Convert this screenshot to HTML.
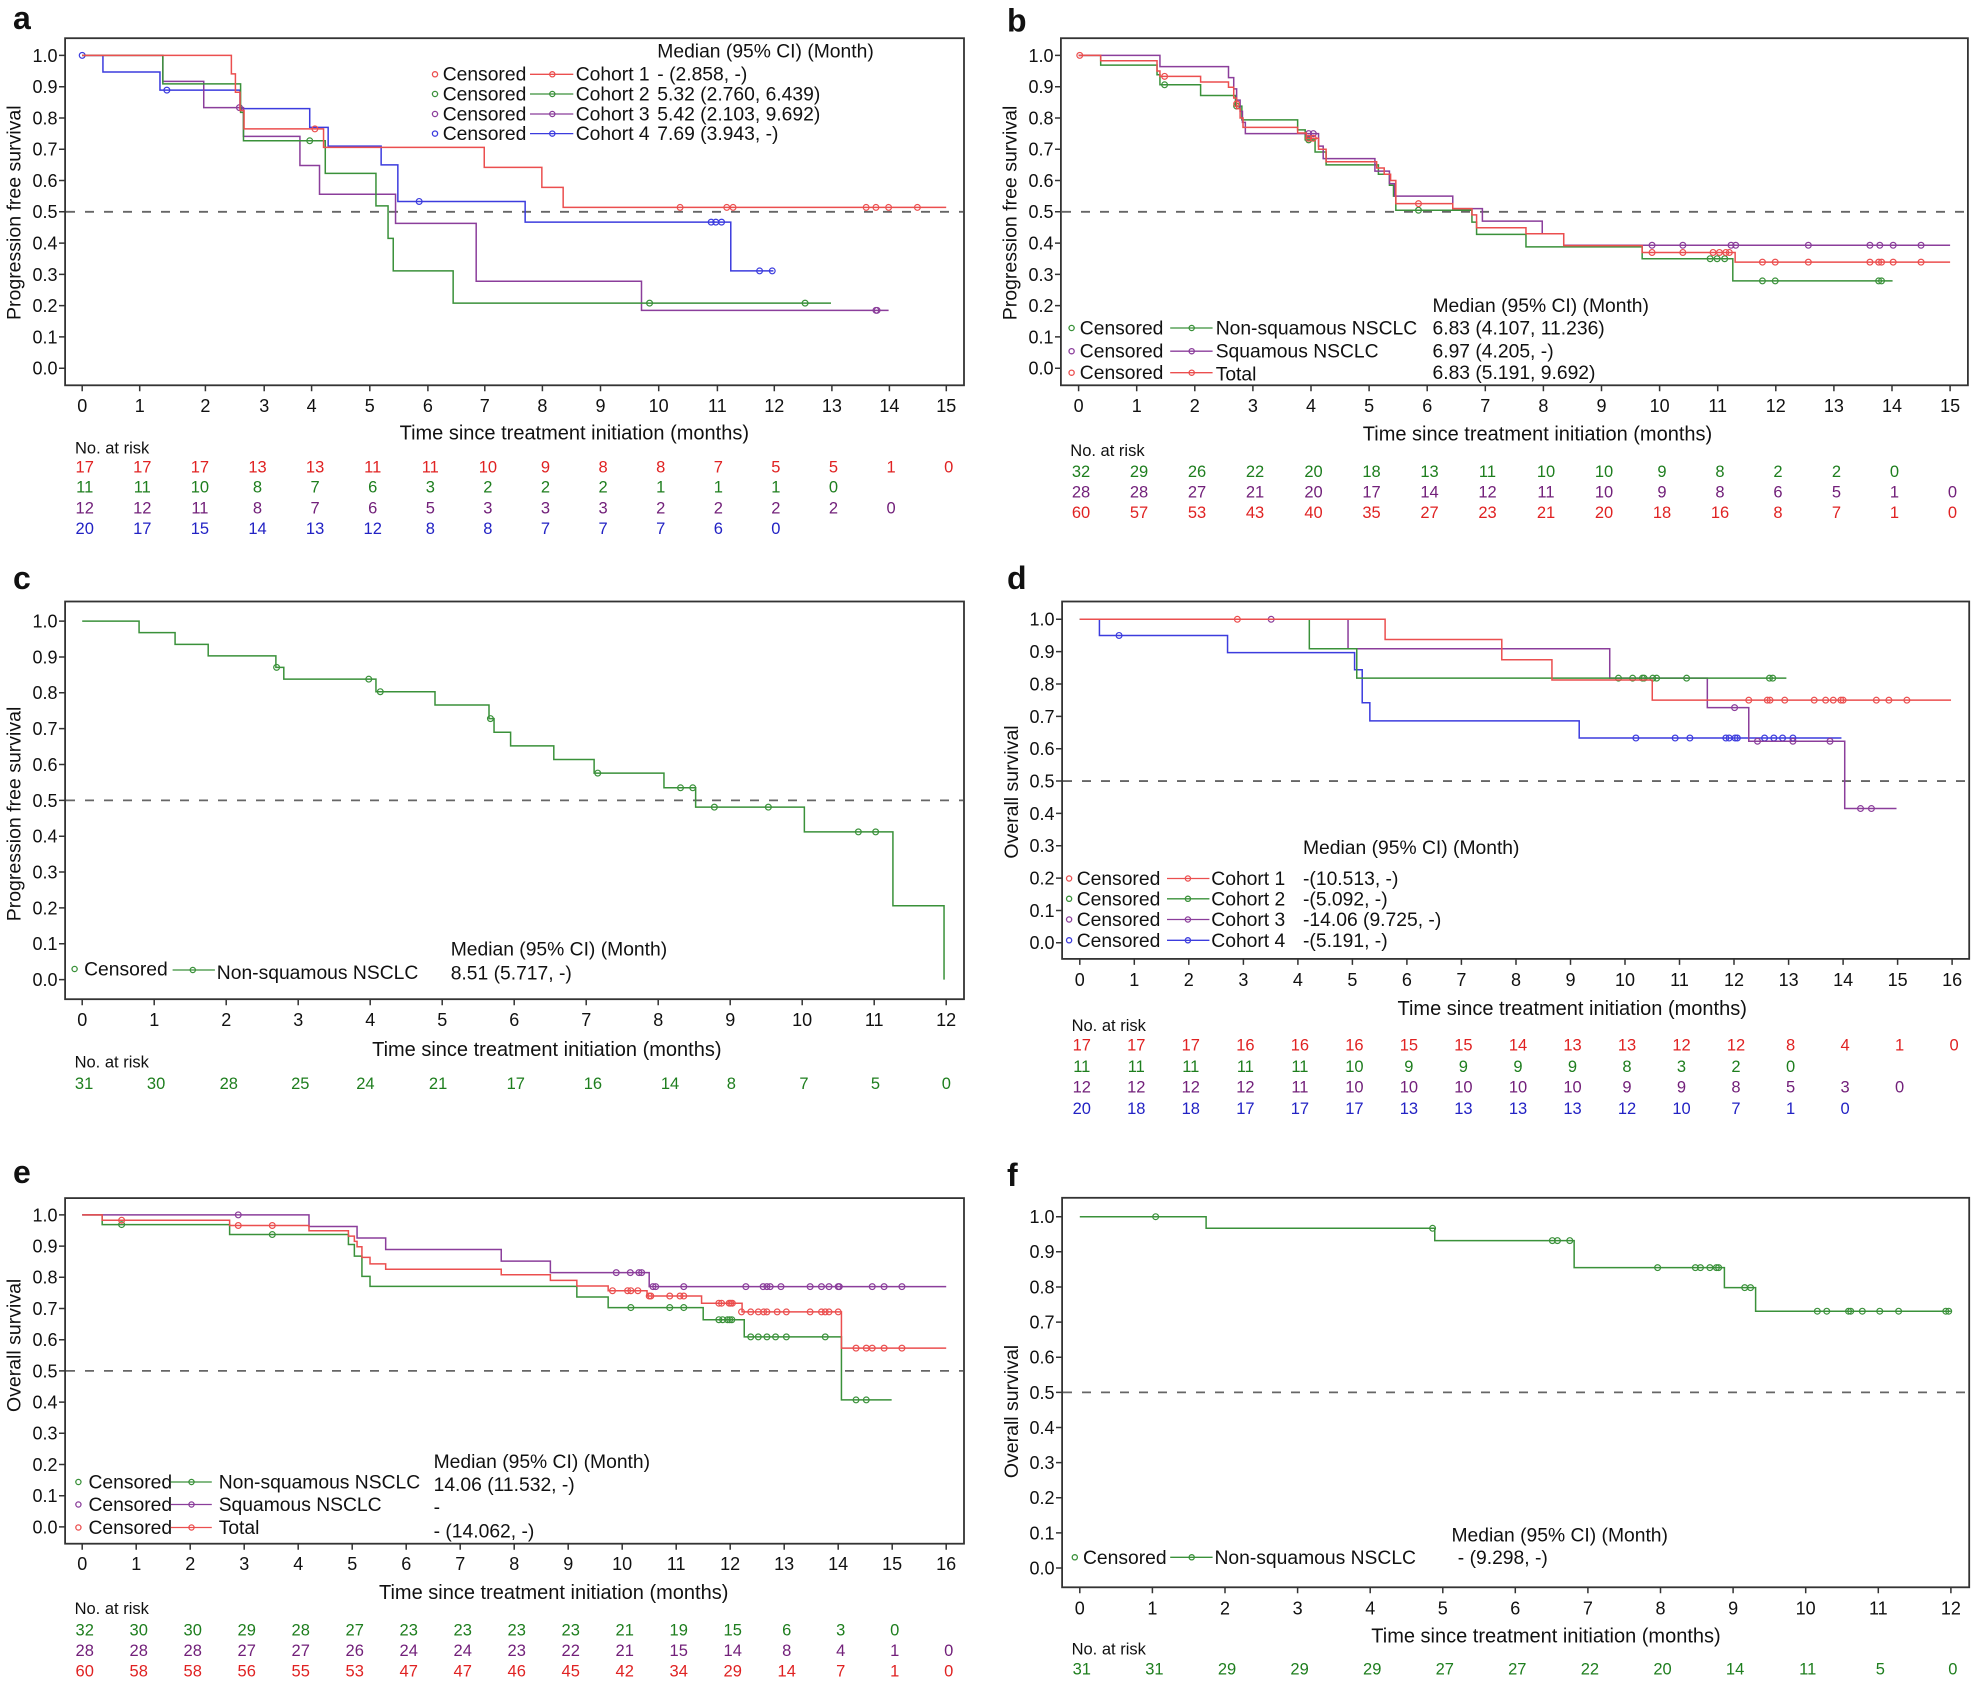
<!DOCTYPE html>
<html><head><meta charset="utf-8"><style>
html,body{margin:0;padding:0;background:#fff}
svg{display:block}
svg text{font-family:"Liberation Sans",Arial,sans-serif;fill:#111}
.tk{font-size:18px}
.tm{text-anchor:middle}
.te{text-anchor:end}
.lg{font-size:19.3px}
.rk{font-size:16.5px;text-anchor:middle}
.ax{font-size:20px;text-anchor:middle}
.yl{font-size:19.5px;text-anchor:middle}
.pl{font-size:32px;font-weight:bold}
.R{fill:#e02222 !important}.G{fill:#1e7e1e !important}.P{fill:#72207a !important}.B{fill:#2222c4 !important}
.cv path,.cv ellipse{vector-effect:non-scaling-stroke}
.cv path{stroke-width:1.5;fill:none}
.cv ellipse{stroke-width:1.2;fill:none}
.box{fill:none;stroke:#333;stroke-width:1.8}
.tks{fill:none;stroke:#333;stroke-width:1.5}
.dash{stroke:#666;stroke-width:1.8;stroke-dasharray:9 10;fill:none}
.lm{fill:none;stroke-width:1.3}
</style></head><body>
<svg width="1975" height="1682" viewBox="0 0 1975 1682" xmlns="http://www.w3.org/2000/svg">

<!-- ================= PANEL A ================= -->
<text class="pl" x="13" y="29">a</text>
<rect class="box" x="65.1" y="38.2" width="898.9" height="347.1"/>
<line class="dash" x1="66" y1="211.8" x2="963" y2="211.8"/>
<path class="tks" d="M59,55.4h6M59,86.7h6M59,118h6M59,149.2h6M59,180.5h6M59,211.8h6M59,243.1h6M59,274.4h6M59,305.6h6M59,336.9h6M59,368.2h6"/>
<path class="tks" d="M82.2,385.3v6M139.7,385.3v6M205.4,385.3v6M264.2,385.3v6M311.6,385.3v6M369.8,385.3v6M427.9,385.3v6M484.8,385.3v6M542.4,385.3v6M600.5,385.3v6M658.7,385.3v6M717.4,385.3v6M774.3,385.3v6M831.9,385.3v6M889.4,385.3v6M946.3,385.3v6"/>
<text class="tk te"><tspan x="57.5" y="61.8">1.0</tspan><tspan x="57.5" y="93.1">0.9</tspan><tspan x="57.5" y="124.4">0.8</tspan><tspan x="57.5" y="155.6">0.7</tspan><tspan x="57.5" y="186.9">0.6</tspan><tspan x="57.5" y="218.2">0.5</tspan><tspan x="57.5" y="249.5">0.4</tspan><tspan x="57.5" y="280.8">0.3</tspan><tspan x="57.5" y="312">0.2</tspan><tspan x="57.5" y="343.3">0.1</tspan><tspan x="57.5" y="374.6">0.0</tspan></text>
<text class="tk tm" y="412"><tspan x="82.2">0</tspan><tspan x="139.7">1</tspan><tspan x="205.4">2</tspan><tspan x="264.2">3</tspan><tspan x="311.6">4</tspan><tspan x="369.8">5</tspan><tspan x="427.9">6</tspan><tspan x="484.8">7</tspan><tspan x="542.4">8</tspan><tspan x="600.5">9</tspan><tspan x="658.7">10</tspan><tspan x="717.4">11</tspan><tspan x="774.3">12</tspan><tspan x="831.9">13</tspan><tspan x="889.4">14</tspan><tspan x="946.3">15</tspan></text>
<text class="ax" x="574.3" y="439.5">Time since treatment initiation (months)</text>
<text class="yl" transform="translate(20.3,212.7) rotate(-90)">Progression free survival</text>
<g class="cv" transform="translate(82.2,368.2) scale(57.6,-312.8)">
 <g stroke="#3c3cde"><path d="M0,1H.36V.947H1.35V.889H2.74V.83H3.95V.77H4.27V.71H5.19V.65H5.48V.533H7.69V.467H11.26V.311H12"/>
  <ellipse cx="0" cy="1" rx=".0503" ry=".00927"/><ellipse cx="1.47" cy=".889" rx=".0503" ry=".00927"/><ellipse cx="5.85" cy=".533" rx=".0503" ry=".00927"/><ellipse cx="10.92" cy=".467" rx=".0503" ry=".00927"/><ellipse cx="11.0" cy=".467" rx=".0503" ry=".00927"/><ellipse cx="11.1" cy=".467" rx=".0503" ry=".00927"/><ellipse cx="11.76" cy=".311" rx=".0503" ry=".00927"/><ellipse cx="11.98" cy=".311" rx=".0503" ry=".00927"/></g>
 <g stroke="#8b3e9b"><path d="M0,1H1.40V.917H2.11V.833H2.80V.741H3.78V.648H4.12V.556H5.44V.463H6.84V.278H9.71V.185H14"/>
  <ellipse cx="2.73" cy=".833" rx=".0503" ry=".00927"/><ellipse cx="13.78" cy=".185" rx=".0503" ry=".00927"/><ellipse cx="13.80" cy=".185" rx=".0503" ry=".00927"/></g>
 <g stroke="#3a913a"><path d="M0,1H1.40V.909H2.75V.818H2.80V.727H4.22V.623H5.10V.519H5.31V.415H5.40V.311H6.44V.208H13"/>
  <ellipse cx="3.95" cy=".727" rx=".0503" ry=".00927"/><ellipse cx="9.85" cy=".208" rx=".0503" ry=".00927"/><ellipse cx="12.55" cy=".208" rx=".0503" ry=".00927"/></g>
 <g stroke="#eb4f4f"><path d="M0,1H2.59V.941H2.66V.882H2.74V.824H2.81V.765H4.19V.706H6.98V.642H7.98V.578H8.35V.514H15"/>
  <ellipse cx="4.04" cy=".765" rx=".0503" ry=".00927"/><ellipse cx="10.38" cy=".514" rx=".0503" ry=".00927"/><ellipse cx="11.19" cy=".514" rx=".0503" ry=".00927"/><ellipse cx="11.30" cy=".514" rx=".0503" ry=".00927"/><ellipse cx="13.61" cy=".514" rx=".0503" ry=".00927"/><ellipse cx="13.78" cy=".514" rx=".0503" ry=".00927"/><ellipse cx="14.0" cy=".514" rx=".0503" ry=".00927"/><ellipse cx="14.5" cy=".514" rx=".0503" ry=".00927"/></g>
</g>
<text class="lg" x="657.3" y="57.3">Median (95% CI) (Month)</text>
<g class="lg">
 <circle class="lm" cx="435" cy="74.3" r="2.6" stroke="#eb4f4f"/><text class="lg" x="442.7" y="80.7">Censored</text><path class="lm" d="M530,74.3H573.3" stroke="#eb4f4f"/><circle class="lm" cx="552.3" cy="74.3" r="2.6" stroke="#eb4f4f"/><text class="lg" x="575.7" y="80.7">Cohort 1</text><text class="lg" x="657.3" y="80.7">- (2.858, -)</text>
 <circle class="lm" cx="435" cy="94" r="2.6" stroke="#3a913a"/><text class="lg" x="442.7" y="100.4">Censored</text><path class="lm" d="M530,94H573.3" stroke="#3a913a"/><circle class="lm" cx="552.3" cy="94" r="2.6" stroke="#3a913a"/><text class="lg" x="575.7" y="100.4">Cohort 2</text><text class="lg" x="657.3" y="100.4">5.32 (2.760, 6.439)</text>
 <circle class="lm" cx="435" cy="114" r="2.6" stroke="#8b3e9b"/><text class="lg" x="442.7" y="120.4">Censored</text><path class="lm" d="M530,114H573.3" stroke="#8b3e9b"/><circle class="lm" cx="552.3" cy="114" r="2.6" stroke="#8b3e9b"/><text class="lg" x="575.7" y="120.4">Cohort 3</text><text class="lg" x="657.3" y="120.4">5.42 (2.103, 9.692)</text>
 <circle class="lm" cx="435" cy="133.6" r="2.6" stroke="#3c3cde"/><text class="lg" x="442.7" y="140">Censored</text><path class="lm" d="M530,133.6H573.3" stroke="#3c3cde"/><circle class="lm" cx="552.3" cy="133.6" r="2.6" stroke="#3c3cde"/><text class="lg" x="575.7" y="140">Cohort 4</text><text class="lg" x="657.3" y="140">7.69 (3.943, -)</text>
</g>
<text class="rk" x="75" y="453.3" style="text-anchor:start">No. at risk</text>
<text class="rk R" y="472.6"><tspan x="84.7">17</tspan><tspan x="142.3">17</tspan><tspan x="199.9">17</tspan><tspan x="257.5">13</tspan><tspan x="315.1">13</tspan><tspan x="372.7">11</tspan><tspan x="430.3">11</tspan><tspan x="487.9">10</tspan><tspan x="545.5">9</tspan><tspan x="603.1">8</tspan><tspan x="660.7">8</tspan><tspan x="718.3">7</tspan><tspan x="775.9">5</tspan><tspan x="833.5">5</tspan><tspan x="891.1">1</tspan><tspan x="948.7">0</tspan></text>
<text class="rk G" y="492.6"><tspan x="84.7">11</tspan><tspan x="142.3">11</tspan><tspan x="199.9">10</tspan><tspan x="257.5">8</tspan><tspan x="315.1">7</tspan><tspan x="372.7">6</tspan><tspan x="430.3">3</tspan><tspan x="487.9">2</tspan><tspan x="545.5">2</tspan><tspan x="603.1">2</tspan><tspan x="660.7">1</tspan><tspan x="718.3">1</tspan><tspan x="775.9">1</tspan><tspan x="833.5">0</tspan></text>
<text class="rk P" y="513.6"><tspan x="84.7">12</tspan><tspan x="142.3">12</tspan><tspan x="199.9">11</tspan><tspan x="257.5">8</tspan><tspan x="315.1">7</tspan><tspan x="372.7">6</tspan><tspan x="430.3">5</tspan><tspan x="487.9">3</tspan><tspan x="545.5">3</tspan><tspan x="603.1">3</tspan><tspan x="660.7">2</tspan><tspan x="718.3">2</tspan><tspan x="775.9">2</tspan><tspan x="833.5">2</tspan><tspan x="891.1">0</tspan></text>
<text class="rk B" y="534.2"><tspan x="84.7">20</tspan><tspan x="142.3">17</tspan><tspan x="199.9">15</tspan><tspan x="257.5">14</tspan><tspan x="315.1">13</tspan><tspan x="372.7">12</tspan><tspan x="430.3">8</tspan><tspan x="487.9">8</tspan><tspan x="545.5">7</tspan><tspan x="603.1">7</tspan><tspan x="660.7">7</tspan><tspan x="718.3">6</tspan><tspan x="775.9">0</tspan></text>

<!-- ================= PANEL B ================= -->
<text class="pl" x="1007" y="31.5">b</text>
<rect class="box" x="1060.9" y="38.2" width="907" height="347.1"/>
<line class="dash" x1="1062" y1="211.8" x2="1967" y2="211.8"/>
<path class="tks" d="M1055,55.4h6M1055,86.7h6M1055,118h6M1055,149.2h6M1055,180.5h6M1055,211.8h6M1055,243.1h6M1055,274.4h6M1055,305.6h6M1055,336.9h6M1055,368.2h6"/>
<path class="tks" d="M1078.6,385.3v6M1136.7,385.3v6M1194.8,385.3v6M1252.9,385.3v6M1311,385.3v6M1369.1,385.3v6M1427.2,385.3v6M1485.3,385.3v6M1543.4,385.3v6M1601.5,385.3v6M1659.6,385.3v6M1717.7,385.3v6M1775.8,385.3v6M1833.9,385.3v6M1892,385.3v6M1950.1,385.3v6"/>
<text class="tk te"><tspan x="1053.5" y="61.8">1.0</tspan><tspan x="1053.5" y="93.1">0.9</tspan><tspan x="1053.5" y="124.4">0.8</tspan><tspan x="1053.5" y="155.6">0.7</tspan><tspan x="1053.5" y="186.9">0.6</tspan><tspan x="1053.5" y="218.2">0.5</tspan><tspan x="1053.5" y="249.5">0.4</tspan><tspan x="1053.5" y="280.8">0.3</tspan><tspan x="1053.5" y="312">0.2</tspan><tspan x="1053.5" y="343.3">0.1</tspan><tspan x="1053.5" y="374.6">0.0</tspan></text>
<text class="tk tm" y="412"><tspan x="1078.6">0</tspan><tspan x="1136.7">1</tspan><tspan x="1194.8">2</tspan><tspan x="1252.9">3</tspan><tspan x="1311">4</tspan><tspan x="1369.1">5</tspan><tspan x="1427.2">6</tspan><tspan x="1485.3">7</tspan><tspan x="1543.4">8</tspan><tspan x="1601.5">9</tspan><tspan x="1659.6">10</tspan><tspan x="1717.7">11</tspan><tspan x="1775.8">12</tspan><tspan x="1833.9">13</tspan><tspan x="1892">14</tspan><tspan x="1950.1">15</tspan></text>
<text class="ax" x="1537.5" y="440.5">Time since treatment initiation (months)</text>
<text class="yl" transform="translate(1016.7,213) rotate(-90)">Progression free survival</text>
<g class="cv" transform="translate(1078.6,368.2) scale(58.1,-312.8)">
 <g stroke="#3a913a"><path d="M0,1H.38V.969H1.35V.938H1.40V.906H2.10V.872H2.70V.838H2.81V.794H3.77V.762H3.90V.73H4.07V.691H4.26V.65H5.16V.62H5.35V.585H5.42V.55H5.46V.505H6.77V.467H6.85V.428H7.70V.388H9.70V.35H11.26V.279H14.01"/>
  <ellipse cx="1.48" cy=".906" rx=".0499" ry=".00927"/><ellipse cx="2.72" cy=".838" rx=".0499" ry=".00927"/><ellipse cx="3.96" cy=".73" rx=".0499" ry=".00927"/><ellipse cx="5.85" cy=".505" rx=".0499" ry=".00927"/><ellipse cx="10.87" cy=".35" rx=".0499" ry=".00927"/><ellipse cx="10.99" cy=".35" rx=".0499" ry=".00927"/><ellipse cx="11.12" cy=".35" rx=".0499" ry=".00927"/><ellipse cx="11.77" cy=".279" rx=".0499" ry=".00927"/><ellipse cx="11.99" cy=".279" rx=".0499" ry=".00927"/><ellipse cx="13.77" cy=".279" rx=".0499" ry=".00927"/><ellipse cx="13.82" cy=".279" rx=".0499" ry=".00927"/></g>
 <g stroke="#8b3e9b"><path d="M0,1H1.40V.964H2.58V.929H2.67V.893H2.72V.857H2.78V.821H2.82V.786H2.87V.75H4.13V.71H4.21V.67H5.10V.63H5.35V.59H5.44V.55H6.44V.51H6.95V.47H7.98V.43H8.35V.393H15"/>
  <ellipse cx="3.96" cy=".75" rx=".0499" ry=".00927"/><ellipse cx="4.04" cy=".75" rx=".0499" ry=".00927"/><ellipse cx="9.87" cy=".393" rx=".0499" ry=".00927"/><ellipse cx="10.40" cy=".393" rx=".0499" ry=".00927"/><ellipse cx="11.23" cy=".393" rx=".0499" ry=".00927"/><ellipse cx="11.31" cy=".393" rx=".0499" ry=".00927"/><ellipse cx="12.56" cy=".393" rx=".0499" ry=".00927"/><ellipse cx="13.62" cy=".393" rx=".0499" ry=".00927"/><ellipse cx="13.79" cy=".393" rx=".0499" ry=".00927"/><ellipse cx="14.02" cy=".393" rx=".0499" ry=".00927"/><ellipse cx="14.5" cy=".393" rx=".0499" ry=".00927"/></g>
 <g stroke="#eb4f4f"><path d="M0,1H.38V.983H1.35V.95H1.40V.933H2.10V.915H2.58V.898H2.67V.864H2.72V.83H2.78V.80H2.83V.77H3.77V.752H3.92V.735H4.13V.70H4.26V.66H5.13V.64H5.26V.62H5.37V.60H5.46V.526H6.44V.51H6.77V.49H6.85V.449H7.70V.43H8.35V.392H9.70V.37H11.30V.339H15"/>
  <ellipse cx=".02" cy="1" rx=".0499" ry=".00927"/><ellipse cx="1.48" cy=".933" rx=".0499" ry=".00927"/><ellipse cx="2.72" cy=".845" rx=".0499" ry=".00927"/><ellipse cx="3.96" cy=".735" rx=".0499" ry=".00927"/><ellipse cx="4.04" cy=".735" rx=".0499" ry=".00927"/><ellipse cx="5.85" cy=".526" rx=".0499" ry=".00927"/><ellipse cx="9.87" cy=".37" rx=".0499" ry=".00927"/><ellipse cx="10.40" cy=".37" rx=".0499" ry=".00927"/><ellipse cx="10.92" cy=".37" rx=".0499" ry=".00927"/><ellipse cx="11.03" cy=".37" rx=".0499" ry=".00927"/><ellipse cx="11.14" cy=".37" rx=".0499" ry=".00927"/><ellipse cx="11.2" cy=".37" rx=".0499" ry=".00927"/><ellipse cx="11.77" cy=".339" rx=".0499" ry=".00927"/><ellipse cx="11.99" cy=".339" rx=".0499" ry=".00927"/><ellipse cx="12.56" cy=".339" rx=".0499" ry=".00927"/><ellipse cx="13.62" cy=".339" rx=".0499" ry=".00927"/><ellipse cx="13.77" cy=".339" rx=".0499" ry=".00927"/><ellipse cx="13.82" cy=".339" rx=".0499" ry=".00927"/><ellipse cx="14.02" cy=".339" rx=".0499" ry=".00927"/><ellipse cx="14.5" cy=".339" rx=".0499" ry=".00927"/></g>
</g>
<text class="lg" x="1432.5" y="312">Median (95% CI) (Month)</text>
<circle class="lm" cx="1071.6" cy="328" r="2.6" stroke="#3a913a"/><text class="lg" x="1079.8" y="334.5">Censored</text><path class="lm" d="M1170.2,328H1212.6" stroke="#3a913a"/><circle class="lm" cx="1191.7" cy="328" r="2.6" stroke="#3a913a"/><text class="lg" x="1215.7" y="334.5">Non-squamous NSCLC</text><text class="lg" x="1432.5" y="334.5">6.83 (4.107, 11.236)</text>
<circle class="lm" cx="1071.6" cy="351.2" r="2.6" stroke="#8b3e9b"/><text class="lg" x="1079.8" y="357.7">Censored</text><path class="lm" d="M1170.2,351.2H1212.6" stroke="#8b3e9b"/><circle class="lm" cx="1191.7" cy="351.2" r="2.6" stroke="#8b3e9b"/><text class="lg" x="1215.7" y="357.7">Squamous NSCLC</text><text class="lg" x="1432.5" y="357.7">6.97 (4.205, -)</text>
<circle class="lm" cx="1071.6" cy="372.7" r="2.6" stroke="#eb4f4f"/><text class="lg" x="1079.8" y="379.2">Censored</text><path class="lm" d="M1170.2,372.7H1212.6" stroke="#eb4f4f"/><circle class="lm" cx="1191.7" cy="372.7" r="2.6" stroke="#eb4f4f"/><text class="lg" x="1215.7" y="380.5">Total</text><text class="lg" x="1432.5" y="379.2">6.83 (5.191, 9.692)</text>
<text class="rk" x="1070.3" y="456" style="text-anchor:start">No. at risk</text>
<text class="rk G" y="477"><tspan x="1081">32</tspan><tspan x="1139">29</tspan><tspan x="1197">26</tspan><tspan x="1255">22</tspan><tspan x="1313.5">20</tspan><tspan x="1371.5">18</tspan><tspan x="1429.5">13</tspan><tspan x="1487.5">11</tspan><tspan x="1546">10</tspan><tspan x="1604">10</tspan><tspan x="1662">9</tspan><tspan x="1720">8</tspan><tspan x="1778">2</tspan><tspan x="1836.5">2</tspan><tspan x="1894.5">0</tspan></text>
<text class="rk P" y="497.4"><tspan x="1081">28</tspan><tspan x="1139">28</tspan><tspan x="1197">27</tspan><tspan x="1255">21</tspan><tspan x="1313.5">20</tspan><tspan x="1371.5">17</tspan><tspan x="1429.5">14</tspan><tspan x="1487.5">12</tspan><tspan x="1546">11</tspan><tspan x="1604">10</tspan><tspan x="1662">9</tspan><tspan x="1720">8</tspan><tspan x="1778">6</tspan><tspan x="1836.5">5</tspan><tspan x="1894.5">1</tspan><tspan x="1952.5">0</tspan></text>
<text class="rk R" y="517.8"><tspan x="1081">60</tspan><tspan x="1139">57</tspan><tspan x="1197">53</tspan><tspan x="1255">43</tspan><tspan x="1313.5">40</tspan><tspan x="1371.5">35</tspan><tspan x="1429.5">27</tspan><tspan x="1487.5">23</tspan><tspan x="1546">21</tspan><tspan x="1604">20</tspan><tspan x="1662">18</tspan><tspan x="1720">16</tspan><tspan x="1778">8</tspan><tspan x="1836.5">7</tspan><tspan x="1894.5">1</tspan><tspan x="1952.5">0</tspan></text>

<!-- ================= PANEL C ================= -->
<text class="pl" x="13" y="589">c</text>
<rect class="box" x="65.1" y="601.5" width="898.9" height="397.7"/>
<line class="dash" x1="66" y1="800.35" x2="963" y2="800.35"/>
<path class="tks" d="M59,621.1h6M59,656.95h6M59,692.8h6M59,728.65h6M59,764.5h6M59,800.35h6M59,836.2h6M59,872.05h6M59,907.9h6M59,943.75h6M59,979.6h6"/>
<path class="tks" d="M82.2,999.2v6M154.2,999.2v6M226.2,999.2v6M298.2,999.2v6M370.2,999.2v6M442.2,999.2v6M514.2,999.2v6M586.2,999.2v6M658.2,999.2v6M730.2,999.2v6M802.2,999.2v6M874.2,999.2v6M946.2,999.2v6"/>
<text class="tk te"><tspan x="57.5" y="627.5">1.0</tspan><tspan x="57.5" y="663.4">0.9</tspan><tspan x="57.5" y="699.2">0.8</tspan><tspan x="57.5" y="735.1">0.7</tspan><tspan x="57.5" y="770.9">0.6</tspan><tspan x="57.5" y="806.8">0.5</tspan><tspan x="57.5" y="842.6">0.4</tspan><tspan x="57.5" y="878.5">0.3</tspan><tspan x="57.5" y="914.3">0.2</tspan><tspan x="57.5" y="950.2">0.1</tspan><tspan x="57.5" y="986">0.0</tspan></text>
<text class="tk tm" y="1026"><tspan x="82.2">0</tspan><tspan x="154.2">1</tspan><tspan x="226.2">2</tspan><tspan x="298.2">3</tspan><tspan x="370.2">4</tspan><tspan x="442.2">5</tspan><tspan x="514.2">6</tspan><tspan x="586.2">7</tspan><tspan x="658.2">8</tspan><tspan x="730.2">9</tspan><tspan x="802.2">10</tspan><tspan x="874.2">11</tspan><tspan x="946.2">12</tspan></text>
<text class="ax" x="546.8" y="1056">Time since treatment initiation (months)</text>
<text class="yl" transform="translate(20.3,814) rotate(-90)">Progression free survival</text>
<g class="cv" transform="translate(82.2,979.6) scale(72,-358.5)">
 <g stroke="#3a913a"><path d="M0,1H.79V.968H1.29V.935H1.75V.903H2.69V.871H2.80V.838H4.08V.803H4.90V.766H5.65V.728H5.72V.69H5.95V.652H6.55V.614H7.11V.576H8.08V.535H8.52V.481H10.03V.412H11.26V.206H11.97V0"/>
  <ellipse cx="2.70" cy=".871" rx=".0403" ry=".00809"/><ellipse cx="3.98" cy=".838" rx=".0403" ry=".00809"/><ellipse cx="4.14" cy=".803" rx=".0403" ry=".00809"/><ellipse cx="5.67" cy=".728" rx=".0403" ry=".00809"/><ellipse cx="7.16" cy=".576" rx=".0403" ry=".00809"/><ellipse cx="8.31" cy=".535" rx=".0403" ry=".00809"/><ellipse cx="8.48" cy=".535" rx=".0403" ry=".00809"/><ellipse cx="8.78" cy=".481" rx=".0403" ry=".00809"/><ellipse cx="9.53" cy=".481" rx=".0403" ry=".00809"/><ellipse cx="10.78" cy=".412" rx=".0403" ry=".00809"/><ellipse cx="11.02" cy=".412" rx=".0403" ry=".00809"/></g>
</g>
<text class="lg" x="450.7" y="955.6">Median (95% CI) (Month)</text>
<circle class="lm" cx="74.6" cy="969" r="2.6" stroke="#3a913a"/><text class="lg" x="84.1" y="975.3">Censored</text><path class="lm" d="M172.6,970H214.9" stroke="#3a913a"/><circle class="lm" cx="192.8" cy="970" r="2.6" stroke="#3a913a"/><text class="lg" x="216.8" y="978.8">Non-squamous NSCLC</text><text class="lg" x="450.7" y="979.6">8.51 (5.717, -)</text>
<text class="rk" x="74.6" y="1067.7" style="text-anchor:start">No. at risk</text>
<text class="rk G" y="1089"><tspan x="84.1">31</tspan><tspan x="156.1">30</tspan><tspan x="228.8">28</tspan><tspan x="300.3">25</tspan><tspan x="365.4">24</tspan><tspan x="438.1">21</tspan><tspan x="515.8">17</tspan><tspan x="592.9">16</tspan><tspan x="670">14</tspan><tspan x="731.4">8</tspan><tspan x="804">7</tspan><tspan x="875.5">5</tspan><tspan x="946.3">0</tspan></text>

<!-- ================= PANEL D ================= -->
<text class="pl" x="1007" y="589">d</text>
<rect class="box" x="1062.1" y="601.5" width="907.1" height="357.4"/>
<line class="dash" x1="1063" y1="781.05" x2="1968" y2="781.05"/>
<path class="tks" d="M1056,619.3h6M1056,651.65h6M1056,684h6M1056,716.35h6M1056,748.7h6M1056,781.05h6M1056,813.4h6M1056,845.75h6M1056,878.1h6M1056,910.45h6M1056,942.8h6"/>
<path class="tks" d="M1079.8,958.9v6M1134.3,958.9v6M1188.8,958.9v6M1243.4,958.9v6M1297.9,958.9v6M1352.4,958.9v6M1406.9,958.9v6M1461.4,958.9v6M1516,958.9v6M1570.5,958.9v6M1625,958.9v6M1679.5,958.9v6M1734,958.9v6M1788.6,958.9v6M1843.1,958.9v6M1897.6,958.9v6M1952.1,958.9v6"/>
<text class="tk te"><tspan x="1054.5" y="625.7">1.0</tspan><tspan x="1054.5" y="658.1">0.9</tspan><tspan x="1054.5" y="690.4">0.8</tspan><tspan x="1054.5" y="722.8">0.7</tspan><tspan x="1054.5" y="755.1">0.6</tspan><tspan x="1054.5" y="787.5">0.5</tspan><tspan x="1054.5" y="819.8">0.4</tspan><tspan x="1054.5" y="852.2">0.3</tspan><tspan x="1054.5" y="884.5">0.2</tspan><tspan x="1054.5" y="916.9">0.1</tspan><tspan x="1054.5" y="949.2">0.0</tspan></text>
<text class="tk tm" y="986"><tspan x="1079.8">0</tspan><tspan x="1134.3">1</tspan><tspan x="1188.8">2</tspan><tspan x="1243.4">3</tspan><tspan x="1297.9">4</tspan><tspan x="1352.4">5</tspan><tspan x="1406.9">6</tspan><tspan x="1461.4">7</tspan><tspan x="1516">8</tspan><tspan x="1570.5">9</tspan><tspan x="1625">10</tspan><tspan x="1679.5">11</tspan><tspan x="1734">12</tspan><tspan x="1788.6">13</tspan><tspan x="1843.1">14</tspan><tspan x="1897.6">15</tspan><tspan x="1952.1">16</tspan></text>
<text class="ax" x="1572.2" y="1015">Time since treatment initiation (months)</text>
<text class="yl" transform="translate(1018,792) rotate(-90)">Overall survival</text>
<g class="cv" transform="translate(1079.8,942.8) scale(54.52,-323.5)">
 <g stroke="#3c3cde"><path d="M0,1H.36V.95H2.71V.897H5.04V.844H5.18V.742H5.32V.686H9.16V.633H13.97"/>
  <ellipse cx=".72" cy=".95" rx=".0532" ry=".00896"/><ellipse cx="10.2" cy=".633" rx=".0532" ry=".00896"/><ellipse cx="10.92" cy=".633" rx=".0532" ry=".00896"/><ellipse cx="11.19" cy=".633" rx=".0532" ry=".00896"/><ellipse cx="11.85" cy=".633" rx=".0532" ry=".00896"/><ellipse cx="11.91" cy=".633" rx=".0532" ry=".00896"/><ellipse cx="12.02" cy=".633" rx=".0532" ry=".00896"/><ellipse cx="12.06" cy=".633" rx=".0532" ry=".00896"/><ellipse cx="12.56" cy=".633" rx=".0532" ry=".00896"/><ellipse cx="12.73" cy=".633" rx=".0532" ry=".00896"/><ellipse cx="12.89" cy=".633" rx=".0532" ry=".00896"/><ellipse cx="13.08" cy=".633" rx=".0532" ry=".00896"/></g>
 <g stroke="#8b3e9b"><path d="M0,1H4.92V.909H9.72V.818H11.51V.727H12.27V.623H14.03V.415H14.98"/>
  <ellipse cx="3.51" cy="1" rx=".0532" ry=".00896"/><ellipse cx="12.01" cy=".727" rx=".0532" ry=".00896"/><ellipse cx="12.43" cy=".623" rx=".0532" ry=".00896"/><ellipse cx="13.08" cy=".623" rx=".0532" ry=".00896"/><ellipse cx="13.76" cy=".623" rx=".0532" ry=".00896"/><ellipse cx="14.32" cy=".415" rx=".0532" ry=".00896"/><ellipse cx="14.52" cy=".415" rx=".0532" ry=".00896"/></g>
 <g stroke="#3a913a"><path d="M0,1H4.21V.909H5.08V.818H12.96"/>
  <ellipse cx="9.88" cy=".818" rx=".0532" ry=".00896"/><ellipse cx="10.14" cy=".818" rx=".0532" ry=".00896"/><ellipse cx="10.32" cy=".818" rx=".0532" ry=".00896"/><ellipse cx="10.35" cy=".818" rx=".0532" ry=".00896"/><ellipse cx="10.51" cy=".818" rx=".0532" ry=".00896"/><ellipse cx="10.58" cy=".818" rx=".0532" ry=".00896"/><ellipse cx="11.13" cy=".818" rx=".0532" ry=".00896"/><ellipse cx="12.65" cy=".818" rx=".0532" ry=".00896"/><ellipse cx="12.71" cy=".818" rx=".0532" ry=".00896"/></g>
 <g stroke="#eb4f4f"><path d="M0,1H5.60V.9375H7.74V.875H8.66V.8125H10.50V.75H15.98"/>
  <ellipse cx="2.89" cy="1" rx=".0532" ry=".00896"/><ellipse cx="12.27" cy=".75" rx=".0532" ry=".00896"/><ellipse cx="12.61" cy=".75" rx=".0532" ry=".00896"/><ellipse cx="12.66" cy=".75" rx=".0532" ry=".00896"/><ellipse cx="12.93" cy=".75" rx=".0532" ry=".00896"/><ellipse cx="13.47" cy=".75" rx=".0532" ry=".00896"/><ellipse cx="13.68" cy=".75" rx=".0532" ry=".00896"/><ellipse cx="13.82" cy=".75" rx=".0532" ry=".00896"/><ellipse cx="13.96" cy=".75" rx=".0532" ry=".00896"/><ellipse cx="14.0" cy=".75" rx=".0532" ry=".00896"/><ellipse cx="14.61" cy=".75" rx=".0532" ry=".00896"/><ellipse cx="14.84" cy=".75" rx=".0532" ry=".00896"/><ellipse cx="15.17" cy=".75" rx=".0532" ry=".00896"/></g>
</g>
<text class="lg" x="1303" y="854">Median (95% CI) (Month)</text>
<circle class="lm" cx="1069.1" cy="878.5" r="2.6" stroke="#eb4f4f"/><text class="lg" x="1076.7" y="885">Censored</text><path class="lm" d="M1167,878.5H1209.4" stroke="#eb4f4f"/><circle class="lm" cx="1187.9" cy="878.5" r="2.6" stroke="#eb4f4f"/><text class="lg" x="1211.3" y="885">Cohort 1</text><text class="lg" x="1303" y="885">-(10.513, -)</text>
<circle class="lm" cx="1069.1" cy="898.8" r="2.6" stroke="#3a913a"/><text class="lg" x="1076.7" y="905.3">Censored</text><path class="lm" d="M1167,898.8H1209.4" stroke="#3a913a"/><circle class="lm" cx="1187.9" cy="898.8" r="2.6" stroke="#3a913a"/><text class="lg" x="1211.3" y="905.3">Cohort 2</text><text class="lg" x="1303" y="905.3">-(5.092, -)</text>
<circle class="lm" cx="1069.1" cy="919.5" r="2.6" stroke="#8b3e9b"/><text class="lg" x="1076.7" y="926">Censored</text><path class="lm" d="M1167,919.5H1209.4" stroke="#8b3e9b"/><circle class="lm" cx="1187.9" cy="919.5" r="2.6" stroke="#8b3e9b"/><text class="lg" x="1211.3" y="926">Cohort 3</text><text class="lg" x="1303" y="926">-14.06 (9.725, -)</text>
<circle class="lm" cx="1069.1" cy="940.3" r="2.6" stroke="#3c3cde"/><text class="lg" x="1076.7" y="946.8">Censored</text><path class="lm" d="M1167,940.3H1209.4" stroke="#3c3cde"/><circle class="lm" cx="1187.9" cy="940.3" r="2.6" stroke="#3c3cde"/><text class="lg" x="1211.3" y="946.8">Cohort 4</text><text class="lg" x="1303" y="946.8">-(5.191, -)</text>
<text class="rk" x="1071.6" y="1031" style="text-anchor:start">No. at risk</text>
<text class="rk R" y="1050.5"><tspan x="1081.8">17</tspan><tspan x="1136.3">17</tspan><tspan x="1190.8">17</tspan><tspan x="1245.4">16</tspan><tspan x="1299.9">16</tspan><tspan x="1354.4">16</tspan><tspan x="1408.9">15</tspan><tspan x="1463.4">15</tspan><tspan x="1518">14</tspan><tspan x="1572.5">13</tspan><tspan x="1627">13</tspan><tspan x="1681.5">12</tspan><tspan x="1736">12</tspan><tspan x="1790.6">8</tspan><tspan x="1845.1">4</tspan><tspan x="1899.6">1</tspan><tspan x="1954.1">0</tspan></text>
<text class="rk G" y="1072"><tspan x="1081.8">11</tspan><tspan x="1136.3">11</tspan><tspan x="1190.8">11</tspan><tspan x="1245.4">11</tspan><tspan x="1299.9">11</tspan><tspan x="1354.4">10</tspan><tspan x="1408.9">9</tspan><tspan x="1463.4">9</tspan><tspan x="1518">9</tspan><tspan x="1572.5">9</tspan><tspan x="1627">8</tspan><tspan x="1681.5">3</tspan><tspan x="1736">2</tspan><tspan x="1790.6">0</tspan></text>
<text class="rk P" y="1092.7"><tspan x="1081.8">12</tspan><tspan x="1136.3">12</tspan><tspan x="1190.8">12</tspan><tspan x="1245.4">12</tspan><tspan x="1299.9">11</tspan><tspan x="1354.4">10</tspan><tspan x="1408.9">10</tspan><tspan x="1463.4">10</tspan><tspan x="1518">10</tspan><tspan x="1572.5">10</tspan><tspan x="1627">9</tspan><tspan x="1681.5">9</tspan><tspan x="1736">8</tspan><tspan x="1790.6">5</tspan><tspan x="1845.1">3</tspan><tspan x="1899.6">0</tspan></text>
<text class="rk B" y="1113.8"><tspan x="1081.8">20</tspan><tspan x="1136.3">18</tspan><tspan x="1190.8">18</tspan><tspan x="1245.4">17</tspan><tspan x="1299.9">17</tspan><tspan x="1354.4">17</tspan><tspan x="1408.9">13</tspan><tspan x="1463.4">13</tspan><tspan x="1518">13</tspan><tspan x="1572.5">13</tspan><tspan x="1627">12</tspan><tspan x="1681.5">10</tspan><tspan x="1736">7</tspan><tspan x="1790.6">1</tspan><tspan x="1845.1">0</tspan></text>

<!-- ================= PANEL E ================= -->
<text class="pl" x="13" y="1183">e</text>
<rect class="box" x="65.1" y="1198.1" width="898.9" height="345.6"/>
<line class="dash" x1="66" y1="1370.9" x2="963" y2="1370.9"/>
<path class="tks" d="M59,1214.9h6M59,1246.1h6M59,1277.3h6M59,1308.5h6M59,1339.7h6M59,1370.9h6M59,1402.1h6M59,1433.3h6M59,1464.5h6M59,1495.7h6M59,1526.9h6"/>
<path class="tks" d="M82.2,1543.7v6M136.2,1543.7v6M190.2,1543.7v6M244.2,1543.7v6M298.2,1543.7v6M352.2,1543.7v6M406.2,1543.7v6M460.2,1543.7v6M514.2,1543.7v6M568.2,1543.7v6M622.2,1543.7v6M676.2,1543.7v6M730.2,1543.7v6M784.2,1543.7v6M838.2,1543.7v6M892.2,1543.7v6M946.2,1543.7v6"/>
<text class="tk te"><tspan x="57.5" y="1221.3">1.0</tspan><tspan x="57.5" y="1252.5">0.9</tspan><tspan x="57.5" y="1283.7">0.8</tspan><tspan x="57.5" y="1314.9">0.7</tspan><tspan x="57.5" y="1346.1">0.6</tspan><tspan x="57.5" y="1377.3">0.5</tspan><tspan x="57.5" y="1408.5">0.4</tspan><tspan x="57.5" y="1439.7">0.3</tspan><tspan x="57.5" y="1470.9">0.2</tspan><tspan x="57.5" y="1502.1">0.1</tspan><tspan x="57.5" y="1533.3">0.0</tspan></text>
<text class="tk tm" y="1569.8"><tspan x="82.2">0</tspan><tspan x="136.2">1</tspan><tspan x="190.2">2</tspan><tspan x="244.2">3</tspan><tspan x="298.2">4</tspan><tspan x="352.2">5</tspan><tspan x="406.2">6</tspan><tspan x="460.2">7</tspan><tspan x="514.2">8</tspan><tspan x="568.2">9</tspan><tspan x="622.2">10</tspan><tspan x="676.2">11</tspan><tspan x="730.2">12</tspan><tspan x="784.2">13</tspan><tspan x="838.2">14</tspan><tspan x="892.2">15</tspan><tspan x="946.2">16</tspan></text>
<text class="ax" x="553.7" y="1599">Time since treatment initiation (months)</text>
<text class="yl" transform="translate(20.5,1345.4) rotate(-90)">Overall survival</text>
<g class="cv" transform="translate(82.2,1526.9) scale(54,-312)">
 <g stroke="#3a913a"><path d="M0,1H.37V.969H2.73V.937H4.93V.905H5.04V.868H5.18V.803H5.33V.771H9.16V.737H9.74V.703H11.5V.664H12.26V.609H14.06V.407H14.99"/>
  <ellipse cx=".73" cy=".969" rx=".0537" ry=".0093"/><ellipse cx="3.52" cy=".937" rx=".0537" ry=".0093"/><ellipse cx="10.16" cy=".703" rx=".0537" ry=".0093"/><ellipse cx="10.88" cy=".703" rx=".0537" ry=".0093"/><ellipse cx="11.14" cy=".703" rx=".0537" ry=".0093"/><ellipse cx="11.79" cy=".664" rx=".0537" ry=".0093"/><ellipse cx="11.86" cy=".664" rx=".0537" ry=".0093"/><ellipse cx="11.95" cy=".664" rx=".0537" ry=".0093"/><ellipse cx="11.99" cy=".664" rx=".0537" ry=".0093"/><ellipse cx="12.03" cy=".664" rx=".0537" ry=".0093"/><ellipse cx="12.38" cy=".609" rx=".0537" ry=".0093"/><ellipse cx="12.52" cy=".609" rx=".0537" ry=".0093"/><ellipse cx="12.68" cy=".609" rx=".0537" ry=".0093"/><ellipse cx="12.84" cy=".609" rx=".0537" ry=".0093"/><ellipse cx="13.04" cy=".609" rx=".0537" ry=".0093"/><ellipse cx="13.76" cy=".609" rx=".0537" ry=".0093"/><ellipse cx="14.33" cy=".407" rx=".0537" ry=".0093"/><ellipse cx="14.52" cy=".407" rx=".0537" ry=".0093"/></g>
 <g stroke="#8b3e9b"><path d="M0,1H4.20V.963H5.09V.926H5.62V.889H7.76V.852H8.67V.815H10.50V.77H16"/>
  <ellipse cx="2.89" cy="1" rx=".0537" ry=".0093"/><ellipse cx="9.89" cy=".815" rx=".0537" ry=".0093"/><ellipse cx="10.15" cy=".815" rx=".0537" ry=".0093"/><ellipse cx="10.31" cy=".815" rx=".0537" ry=".0093"/><ellipse cx="10.36" cy=".815" rx=".0537" ry=".0093"/><ellipse cx="10.57" cy=".77" rx=".0537" ry=".0093"/><ellipse cx="10.62" cy=".77" rx=".0537" ry=".0093"/><ellipse cx="11.14" cy=".77" rx=".0537" ry=".0093"/><ellipse cx="12.29" cy=".77" rx=".0537" ry=".0093"/><ellipse cx="12.61" cy=".77" rx=".0537" ry=".0093"/><ellipse cx="12.68" cy=".77" rx=".0537" ry=".0093"/><ellipse cx="12.74" cy=".77" rx=".0537" ry=".0093"/><ellipse cx="12.94" cy=".77" rx=".0537" ry=".0093"/><ellipse cx="13.48" cy=".77" rx=".0537" ry=".0093"/><ellipse cx="13.69" cy=".77" rx=".0537" ry=".0093"/><ellipse cx="13.83" cy=".77" rx=".0537" ry=".0093"/><ellipse cx="14.0" cy=".77" rx=".0537" ry=".0093"/><ellipse cx="14.02" cy=".77" rx=".0537" ry=".0093"/><ellipse cx="14.63" cy=".77" rx=".0537" ry=".0093"/><ellipse cx="14.85" cy=".77" rx=".0537" ry=".0093"/><ellipse cx="15.18" cy=".77" rx=".0537" ry=".0093"/></g>
 <g stroke="#eb4f4f"><path d="M0,1H.37V.983H2.73V.966H4.20V.949H4.93V.932H5.04V.915H5.09V.898H5.18V.864H5.33V.843H5.62V.826H7.76V.808H8.67V.79H9.16V.772H9.74V.757H10.46V.74H11.47V.717H12.22V.689H14.06V.573H16"/>
  <ellipse cx=".73" cy=".983" rx=".0537" ry=".0093"/><ellipse cx="2.89" cy=".966" rx=".0537" ry=".0093"/><ellipse cx="3.52" cy=".966" rx=".0537" ry=".0093"/><ellipse cx="9.82" cy=".757" rx=".0537" ry=".0093"/><ellipse cx="10.10" cy=".757" rx=".0537" ry=".0093"/><ellipse cx="10.16" cy=".757" rx=".0537" ry=".0093"/><ellipse cx="10.29" cy=".757" rx=".0537" ry=".0093"/><ellipse cx="10.50" cy=".74" rx=".0537" ry=".0093"/><ellipse cx="10.53" cy=".74" rx=".0537" ry=".0093"/><ellipse cx="10.88" cy=".74" rx=".0537" ry=".0093"/><ellipse cx="11.07" cy=".74" rx=".0537" ry=".0093"/><ellipse cx="11.14" cy=".74" rx=".0537" ry=".0093"/><ellipse cx="11.79" cy=".717" rx=".0537" ry=".0093"/><ellipse cx="11.84" cy=".717" rx=".0537" ry=".0093"/><ellipse cx="11.98" cy=".717" rx=".0537" ry=".0093"/><ellipse cx="12.01" cy=".717" rx=".0537" ry=".0093"/><ellipse cx="12.04" cy=".717" rx=".0537" ry=".0093"/><ellipse cx="12.21" cy=".689" rx=".0537" ry=".0093"/><ellipse cx="12.38" cy=".689" rx=".0537" ry=".0093"/><ellipse cx="12.52" cy=".689" rx=".0537" ry=".0093"/><ellipse cx="12.62" cy=".689" rx=".0537" ry=".0093"/><ellipse cx="12.68" cy=".689" rx=".0537" ry=".0093"/><ellipse cx="12.87" cy=".689" rx=".0537" ry=".0093"/><ellipse cx="13.04" cy=".689" rx=".0537" ry=".0093"/><ellipse cx="13.48" cy=".689" rx=".0537" ry=".0093"/><ellipse cx="13.69" cy=".689" rx=".0537" ry=".0093"/><ellipse cx="13.76" cy=".689" rx=".0537" ry=".0093"/><ellipse cx="13.83" cy=".689" rx=".0537" ry=".0093"/><ellipse cx="14.0" cy=".689" rx=".0537" ry=".0093"/><ellipse cx="14.33" cy=".573" rx=".0537" ry=".0093"/><ellipse cx="14.52" cy=".573" rx=".0537" ry=".0093"/><ellipse cx="14.63" cy=".573" rx=".0537" ry=".0093"/><ellipse cx="14.85" cy=".573" rx=".0537" ry=".0093"/><ellipse cx="15.18" cy=".573" rx=".0537" ry=".0093"/></g>
</g>
<text class="lg" x="433.6" y="1468">Median (95% CI) (Month)</text>
<circle class="lm" cx="78.4" cy="1482" r="2.6" stroke="#3a913a"/><text class="lg" x="88.5" y="1488.4">Censored</text><path class="lm" d="M170.7,1482H211.8" stroke="#3a913a"/><circle class="lm" cx="191.5" cy="1482" r="2.6" stroke="#3a913a"/><text class="lg" x="218.7" y="1488.4">Non-squamous NSCLC</text><text class="lg" x="433.6" y="1491">14.06 (11.532, -)</text>
<circle class="lm" cx="78.4" cy="1504.5" r="2.6" stroke="#8b3e9b"/><text class="lg" x="88.5" y="1511">Censored</text><path class="lm" d="M170.7,1504.5H211.8" stroke="#8b3e9b"/><circle class="lm" cx="191.5" cy="1504.5" r="2.6" stroke="#8b3e9b"/><text class="lg" x="218.7" y="1511">Squamous NSCLC</text><text class="lg" x="433.6" y="1513.5">-</text>
<circle class="lm" cx="78.4" cy="1527.5" r="2.6" stroke="#eb4f4f"/><text class="lg" x="88.5" y="1534">Censored</text><path class="lm" d="M170.7,1527.5H211.8" stroke="#eb4f4f"/><circle class="lm" cx="191.5" cy="1527.5" r="2.6" stroke="#eb4f4f"/><text class="lg" x="218.7" y="1534">Total</text><text class="lg" x="433.6" y="1537.7">- (14.062, -)</text>
<text class="rk" x="74.6" y="1614" style="text-anchor:start">No. at risk</text>
<text class="rk G" y="1635.4"><tspan x="84.7">32</tspan><tspan x="138.7">30</tspan><tspan x="192.7">30</tspan><tspan x="246.7">29</tspan><tspan x="300.7">28</tspan><tspan x="354.7">27</tspan><tspan x="408.7">23</tspan><tspan x="462.7">23</tspan><tspan x="516.7">23</tspan><tspan x="570.7">23</tspan><tspan x="624.7">21</tspan><tspan x="678.7">19</tspan><tspan x="732.7">15</tspan><tspan x="786.7">6</tspan><tspan x="840.7">3</tspan><tspan x="894.7">0</tspan></text>
<text class="rk P" y="1656.1"><tspan x="84.7">28</tspan><tspan x="138.7">28</tspan><tspan x="192.7">28</tspan><tspan x="246.7">27</tspan><tspan x="300.7">27</tspan><tspan x="354.7">26</tspan><tspan x="408.7">24</tspan><tspan x="462.7">24</tspan><tspan x="516.7">23</tspan><tspan x="570.7">22</tspan><tspan x="624.7">21</tspan><tspan x="678.7">15</tspan><tspan x="732.7">14</tspan><tspan x="786.7">8</tspan><tspan x="840.7">4</tspan><tspan x="894.7">1</tspan><tspan x="948.7">0</tspan></text>
<text class="rk R" y="1676.5"><tspan x="84.7">60</tspan><tspan x="138.7">58</tspan><tspan x="192.7">58</tspan><tspan x="246.7">56</tspan><tspan x="300.7">55</tspan><tspan x="354.7">53</tspan><tspan x="408.7">47</tspan><tspan x="462.7">47</tspan><tspan x="516.7">46</tspan><tspan x="570.7">45</tspan><tspan x="624.7">42</tspan><tspan x="678.7">34</tspan><tspan x="732.7">29</tspan><tspan x="786.7">14</tspan><tspan x="840.7">7</tspan><tspan x="894.7">1</tspan><tspan x="948.7">0</tspan></text>

<!-- ================= PANEL F ================= -->
<text class="pl" x="1007" y="1186">f</text>
<rect class="box" x="1062.1" y="1197.8" width="907.1" height="389.5"/>
<line class="dash" x1="1063" y1="1392.4" x2="1968" y2="1392.4"/>
<path class="tks" d="M1056,1216.7h6M1056,1251.8h6M1056,1287h6M1056,1322.1h6M1056,1357.2h6M1056,1392.4h6M1056,1427.5h6M1056,1462.6h6M1056,1497.7h6M1056,1532.9h6M1056,1568h6"/>
<path class="tks" d="M1079.8,1587.3v6M1152.4,1587.3v6M1225,1587.3v6M1297.6,1587.3v6M1370.2,1587.3v6M1442.8,1587.3v6M1515.3,1587.3v6M1587.9,1587.3v6M1660.5,1587.3v6M1733.1,1587.3v6M1805.7,1587.3v6M1878.3,1587.3v6M1950.9,1587.3v6"/>
<text class="tk te"><tspan x="1054.5" y="1223.1">1.0</tspan><tspan x="1054.5" y="1258.2">0.9</tspan><tspan x="1054.5" y="1293.4">0.8</tspan><tspan x="1054.5" y="1328.5">0.7</tspan><tspan x="1054.5" y="1363.6">0.6</tspan><tspan x="1054.5" y="1398.8">0.5</tspan><tspan x="1054.5" y="1433.9">0.4</tspan><tspan x="1054.5" y="1469">0.3</tspan><tspan x="1054.5" y="1504.1">0.2</tspan><tspan x="1054.5" y="1539.3">0.1</tspan><tspan x="1054.5" y="1574.4">0.0</tspan></text>
<text class="tk tm" y="1614.5"><tspan x="1079.8">0</tspan><tspan x="1152.4">1</tspan><tspan x="1225">2</tspan><tspan x="1297.6">3</tspan><tspan x="1370.2">4</tspan><tspan x="1442.8">5</tspan><tspan x="1515.3">6</tspan><tspan x="1587.9">7</tspan><tspan x="1660.5">8</tspan><tspan x="1733.1">9</tspan><tspan x="1805.7">10</tspan><tspan x="1878.3">11</tspan><tspan x="1950.9">12</tspan></text>
<text class="ax" x="1546" y="1642.5">Time since treatment initiation (months)</text>
<text class="yl" transform="translate(1018,1411.5) rotate(-90)">Overall survival</text>
<g class="cv" transform="translate(1079.8,1568) scale(72.59,-351.3)">
 <g stroke="#3a913a"><path d="M0,1H1.74V.967H4.89V.932H6.81V.855H8.88V.798H9.31V.731H12"/>
  <ellipse cx="1.045" cy="1" rx=".04" ry=".00826"/><ellipse cx="4.86" cy=".967" rx=".04" ry=".00826"/><ellipse cx="6.51" cy=".932" rx=".04" ry=".00826"/><ellipse cx="6.58" cy=".932" rx=".04" ry=".00826"/><ellipse cx="6.75" cy=".932" rx=".04" ry=".00826"/><ellipse cx="7.96" cy=".855" rx=".04" ry=".00826"/><ellipse cx="8.48" cy=".855" rx=".04" ry=".00826"/><ellipse cx="8.55" cy=".855" rx=".04" ry=".00826"/><ellipse cx="8.68" cy=".855" rx=".04" ry=".00826"/><ellipse cx="8.77" cy=".855" rx=".04" ry=".00826"/><ellipse cx="8.80" cy=".855" rx=".04" ry=".00826"/><ellipse cx="9.16" cy=".798" rx=".04" ry=".00826"/><ellipse cx="9.24" cy=".798" rx=".04" ry=".00826"/><ellipse cx="10.16" cy=".731" rx=".04" ry=".00826"/><ellipse cx="10.29" cy=".731" rx=".04" ry=".00826"/><ellipse cx="10.59" cy=".731" rx=".04" ry=".00826"/><ellipse cx="10.62" cy=".731" rx=".04" ry=".00826"/><ellipse cx="10.78" cy=".731" rx=".04" ry=".00826"/><ellipse cx="11.02" cy=".731" rx=".04" ry=".00826"/><ellipse cx="11.28" cy=".731" rx=".04" ry=".00826"/><ellipse cx="11.93" cy=".731" rx=".04" ry=".00826"/><ellipse cx="11.97" cy=".731" rx=".04" ry=".00826"/></g>
</g>
<text class="lg" x="1451.5" y="1541.3">Median (95% CI) (Month)</text>
<circle class="lm" cx="1074.8" cy="1557.3" r="2.6" stroke="#3a913a"/><text class="lg" x="1083" y="1563.8">Censored</text><path class="lm" d="M1170.2,1557.3H1212.6" stroke="#3a913a"/><circle class="lm" cx="1191.7" cy="1557.3" r="2.6" stroke="#3a913a"/><text class="lg" x="1214.5" y="1563.8">Non-squamous NSCLC</text><text class="lg" x="1457.8" y="1563.8">- (9.298, -)</text>
<text class="rk" x="1071.6" y="1654.3" style="text-anchor:start">No. at risk</text>
<text class="rk G" y="1674.7"><tspan x="1081.8">31</tspan><tspan x="1154.4">31</tspan><tspan x="1227">29</tspan><tspan x="1299.6">29</tspan><tspan x="1372.2">29</tspan><tspan x="1444.8">27</tspan><tspan x="1517.3">27</tspan><tspan x="1589.9">22</tspan><tspan x="1662.5">20</tspan><tspan x="1735.1">14</tspan><tspan x="1807.7">11</tspan><tspan x="1880.3">5</tspan><tspan x="1952.9">0</tspan></text>

</svg>
</body></html>
